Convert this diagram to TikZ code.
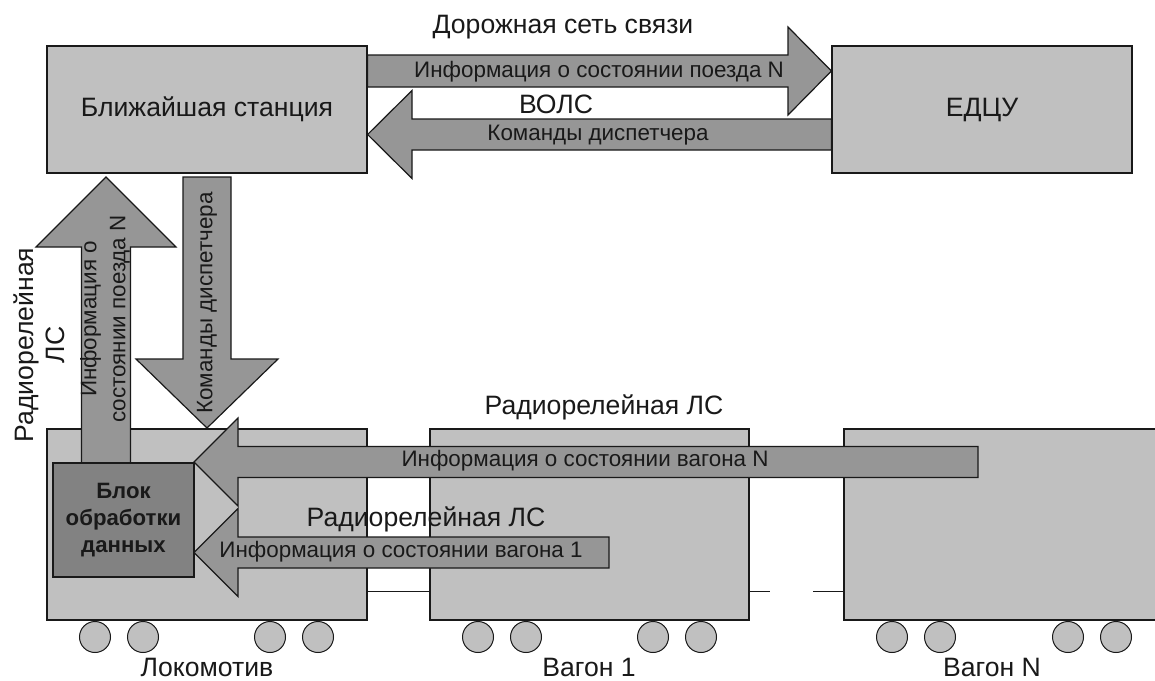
\documentclass[tikz,border=0pt]{standalone}
\usepackage{fontspec}
\setmainfont{Liberation Sans}
\definecolor{boxgray}{RGB}{192,192,192}
\definecolor{arrgray}{RGB}{150,150,150}
\definecolor{blockgray}{RGB}{130,130,130}
\definecolor{ink}{RGB}{25,25,25}
\begin{document}
\begin{tikzpicture}[x=1pt,y=-1pt,line width=1.2pt,
  box/.style={draw=ink,fill=boxgray,inner sep=0pt},
  arr/.style={draw=ink,fill=arrgray,line join=miter},
  big/.style={font=\fontsize{26.6}{31}\selectfont,text=ink,inner sep=0pt},
  small/.style={font=\fontsize{22.4}{29}\selectfont,text=ink,inner sep=0pt},
  wheel/.style={circle,draw=ink,fill=boxgray,minimum size=31pt,inner sep=0pt,line width=1pt},
  coupler/.style={draw=ink,line width=1pt}]
\useasboundingbox (0,0) rectangle (1155,680);
% top boxes
\node[box,minimum width=320pt,minimum height=127pt,big] (st) at (207,109.5) {Ближайшая станция};
\node[box,minimum width=300pt,minimum height=127pt,big] (edcu) at (982,109.5) {ЕДЦУ};
% top arrows
\draw[arr] (st.east |- 0,55) -- (788,55) -- (788,27) -- (edcu.west |- 0,71) -- (788,115) -- (788,87) -- (st.east |- 0,87) -- cycle;
\draw[arr] (edcu.west |- 0,119) -- (412,119) -- (412,90.5) -- (st.east |- 0,134.5) -- (412,178.5) -- (412,150) -- (edcu.west |- 0,150) -- cycle;
\node[small] (t1) at (599,72) {Информация о состоянии поезда N};
\node[small] (t2) at (598,135) {Команды диспетчера};
\node[big] (net) at (563,27) {Дорожная сеть связи};
\node[big] (vols) at (556,104) {ВОЛС};
% couplers
\coordinate (c1) at (367,591);
\coordinate (c2) at (430,591);
\coordinate (c3) at (770,591);
\coordinate (c4) at (813,591);
% cars
\node[box,minimum width=320pt,minimum height=191pt] (loco) at (207,524.5) {};
\node[box,minimum width=319pt,minimum height=191pt] (w1) at (589.5,524.5) {};
\node[box,minimum width=330pt,minimum height=191pt] (wn) at (1009,524.5) {};
\draw[coupler] (c1) -- (c2);
\draw[coupler] (w1.east |- c3) -- (c3);
\draw[coupler] (c4) -- (wn.west |- c4);
% vertical arrows
\draw[arr] (81.5,463) -- (81.5,247) -- (36,247) -- (106,177) -- (176,247) -- (130.5,247) -- (130.5,463) -- cycle;
\draw[arr] (183,177) -- (183,359) -- (136,359) -- (207,428) -- (278,359) -- (231,359) -- (231,177) -- cycle;
\node[small,rotate=90,align=center] (t3) at (105,319) {Информация о\\состоянии поезда N};
\node[small,rotate=90] (t4) at (207,303) {Команды диспетчера};
\node[big,rotate=90,align=center] (t5) at (39,345) {Радиорелейная\\ЛС};
% data block
\node[draw=ink,fill=blockgray,minimum width=141pt,minimum height=114pt,inner sep=0pt,
  font=\fontsize{22.2}{27}\selectfont\bfseries,text=ink,align=center] (blk) at (123.5,520) {Блок\\обработки\\данных};
% wagon arrows
\draw[arr] (978,446.5) -- (238,446.5) -- (238,418) -- (194,462) -- (238,506) -- (238,477.5) -- (978,477.5) -- cycle;
\draw[arr] (609,537) -- (238,537) -- (238,508.5) -- (194,552.5) -- (238,596.5) -- (238,568) -- (609,568) -- cycle;
\node[small] (t6) at (585,461) {Информация о состоянии вагона N};
\node[small] (t7) at (401,552) {Информация о состоянии вагона 1};
\node[big] (r1) at (604,407) {Радиорелейная ЛС};
\node[big] (r2) at (426,519) {Радиорелейная ЛС};
% wheels
\foreach \n/\x in {a/95,b/143,c/270,d/318,e/478,f/526,g/653,h/701,i/892,j/940,k/1068,l/1116}
  \node[wheel] (wh\n) at (\x,637) {};
% car labels
\node[big] (lloco) at (207,667) {Локомотив};
\node[big] (lw1) at (589,667) {Вагон 1};
\node[big] (lwn) at (992,667) {Вагон N};
\end{tikzpicture}
\end{document}
